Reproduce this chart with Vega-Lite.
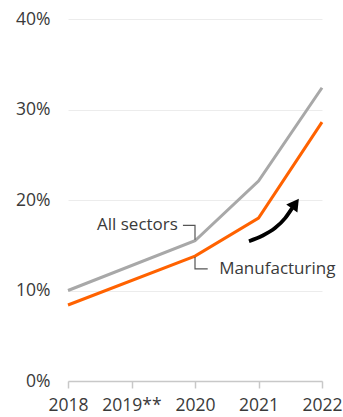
{
  "$schema": "https://vega.github.io/schema/vega-lite/v6.json",
  "width": 254,
  "height": 362,
  "autosize": "none",
  "padding": {"left": 68, "top": 19, "right": 21, "bottom": 36},
  "background": "white",
  "config": {
    "view": {"stroke": null},
    "font": "Open Sans",
    "axis": {"labelFont": "Open Sans", "labelFontSize": 17.5, "labelColor": "#3a3a3a", "title": null}
  },
  "datasets": {
    "series": [
      {"year": 2018, "value": 10.0, "series": "All sectors"},
      {"year": 2020, "value": 15.5, "series": "All sectors"},
      {"year": 2021, "value": 22.1, "series": "All sectors"},
      {"year": 2022, "value": 32.4, "series": "All sectors"},
      {"year": 2018, "value": 8.4, "series": "Manufacturing"},
      {"year": 2020, "value": 13.8, "series": "Manufacturing"},
      {"year": 2021, "value": 18.0, "series": "Manufacturing"},
      {"year": 2022, "value": 28.6, "series": "Manufacturing"}
    ],
    "leaders": [
      {"x": 2019.81, "y": 17.2, "order": 1, "series": "All sectors"},
      {"x": 2020.0, "y": 17.2, "order": 2, "series": "All sectors"},
      {"x": 2020.0, "y": 15.6, "order": 3, "series": "All sectors"},
      {"x": 2020.0, "y": 13.7, "order": 1, "series": "Manufacturing"},
      {"x": 2020.0, "y": 12.4, "order": 2, "series": "Manufacturing"},
      {"x": 2020.2, "y": 12.4, "order": 3, "series": "Manufacturing"}
    ],
    "labelsRight": [
      {"x": 2019.73, "y": 17.2, "text": "All sectors"}
    ],
    "labelsLeft": [
      {"x": 2020.38, "y": 12.4, "text": "Manufacturing"}
    ],
    "arrow": [
      {"x": 2020.85, "y": 15.45, "order": 1},
      {"x": 2021.06, "y": 16.05, "order": 2},
      {"x": 2021.26, "y": 16.9, "order": 3},
      {"x": 2021.42, "y": 18.0, "order": 4},
      {"x": 2021.53, "y": 19.1, "order": 5}
    ],
    "arrowhead": [
      {"x": 2021.58, "y": 19.6, "angle": 36}
    ]
  },
  "layer": [
    {
      "data": {"name": "series"},
      "mark": {"type": "line", "strokeWidth": 3, "strokeJoin": "miter"},
      "encoding": {
        "x": {
          "field": "year", "type": "quantitative",
          "scale": {"domain": [2018, 2022], "nice": false, "zero": false},
          "axis": {
            "values": [2018, 2019, 2020, 2021, 2022],
            "labelExpr": "datum.value == 2019 ? '2019**' : format(datum.value, 'd')",
            "labelOverlap": false, "labelFlush": false,
            "grid": false, "domainColor": "#c8c8c8", "tickColor": "#c8c8c8",
            "tickSize": 7, "labelPadding": 8, "domainWidth": 1.5, "tickWidth": 1.5
          }
        },
        "y": {
          "field": "value", "type": "quantitative",
          "scale": {"domain": [0, 40], "nice": false},
          "axis": {
            "values": [0, 10, 20, 30, 40],
            "labelExpr": "datum.value + '%'",
            "labelOverlap": false, "labelFlush": false,
            "domain": false, "ticks": false, "labelPadding": 18,
            "gridColor": "#ececec", "gridWidth": 1
          }
        },
        "color": {
          "field": "series", "type": "nominal",
          "scale": {"domain": ["All sectors", "Manufacturing"], "range": ["#a8a8a8", "#ff6200"]},
          "legend": null
        }
      }
    },
    {
      "data": {"name": "leaders"},
      "mark": {"type": "line", "strokeWidth": 1.2, "color": "#555555"},
      "encoding": {
        "x": {"field": "x", "type": "quantitative"},
        "y": {"field": "y", "type": "quantitative"},
        "detail": {"field": "series"},
        "order": {"field": "order"}
      }
    },
    {
      "data": {"name": "labelsRight"},
      "mark": {"type": "text", "fontSize": 17, "color": "#3a3a3a", "baseline": "middle", "align": "right"},
      "encoding": {
        "x": {"field": "x", "type": "quantitative"},
        "y": {"field": "y", "type": "quantitative"},
        "text": {"field": "text"}
      }
    },
    {
      "data": {"name": "labelsLeft"},
      "mark": {"type": "text", "fontSize": 17, "color": "#3a3a3a", "baseline": "middle", "align": "left"},
      "encoding": {
        "x": {"field": "x", "type": "quantitative"},
        "y": {"field": "y", "type": "quantitative"},
        "text": {"field": "text"}
      }
    },
    {
      "data": {"name": "arrow"},
      "mark": {"type": "line", "strokeWidth": 3.8, "color": "black", "interpolate": "monotone"},
      "encoding": {
        "x": {"field": "x", "type": "quantitative"},
        "y": {"field": "y", "type": "quantitative"},
        "order": {"field": "order"}
      }
    },
    {
      "data": {"name": "arrowhead"},
      "mark": {"type": "point", "shape": "triangle-up", "filled": true, "color": "black", "size": 190, "opacity": 1},
      "encoding": {
        "x": {"field": "x", "type": "quantitative"},
        "y": {"field": "y", "type": "quantitative"},
        "angle": {"field": "angle", "type": "quantitative", "scale": null}
      }
    }
  ]
}
